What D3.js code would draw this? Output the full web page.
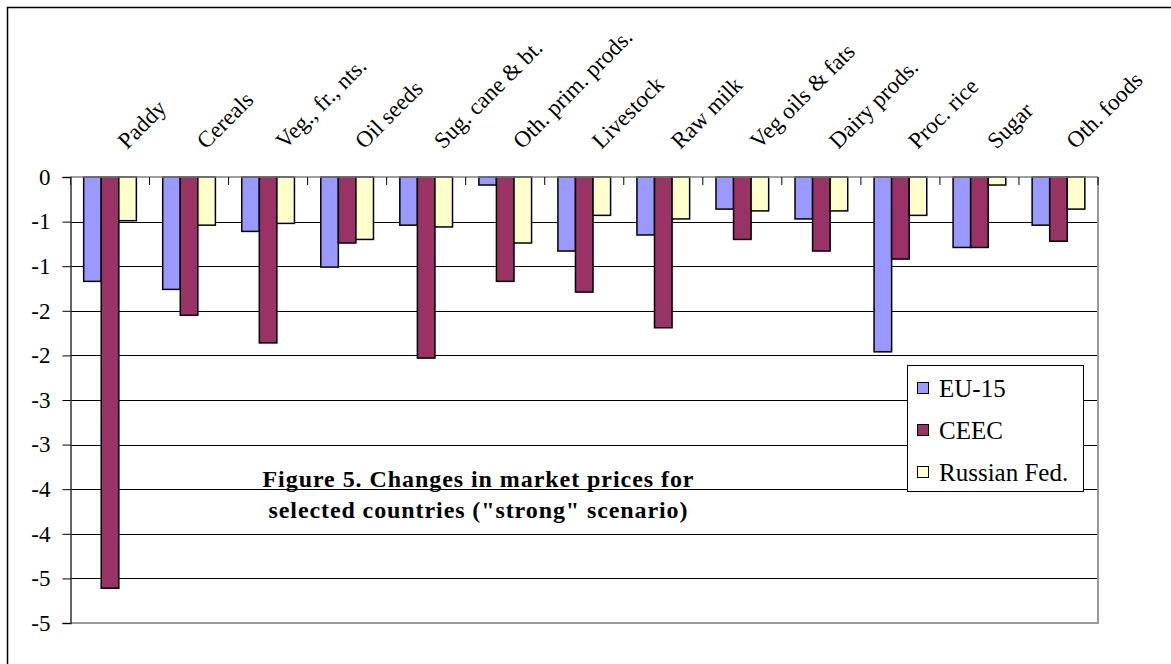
<!DOCTYPE html>
<html>
<head>
<meta charset="utf-8">
<script src="https://cdn.jsdelivr.net/npm/d3@7"></script>
<style>
  html, body { margin: 0; padding: 0; background: #fff; }
  svg { display: block; }
  text { font-family: "Liberation Serif", "Times New Roman", serif; fill: #000; }
</style>
</head>
<body>
<svg id="chart" width="1171" height="664"></svg>
<script>
// Product groups along the category axis
const categories = [
  "Paddy", "Cereals", "Veg., fr., nts.", "Oil seeds", "Sug. cane & bt.",
  "Oth. prim. prods.", "Livestock", "Raw milk", "Veg oils & fats",
  "Dairy prods.", "Proc. rice", "Sugar", "Oth. foods"
];

// Regions compared
const seriesNames = ["EU-15", "CEEC", "Russian Fed."];
const seriesColors = ["#9999FF", "#993366", "#FFFFCC"];

// Change in market prices (%) per region
const eu15 =     [-1.17, -1.26, -0.61, -1.01, -0.54, -0.09, -0.83, -0.65, -0.36, -0.47, -1.96, -0.79, -0.54];
const ceec =     [-4.61, -1.55, -1.86, -0.74, -2.03, -1.17, -1.29, -1.69, -0.70, -0.83, -0.92, -0.79, -0.72];
const russia =   [-0.49, -0.54, -0.52, -0.70, -0.56, -0.74, -0.43, -0.47, -0.38, -0.38, -0.43, -0.09, -0.36];

// Value axis ticks and their labels (whole-number format)
const yTicks = [0, -0.5, -1, -1.5, -2, -2.5, -3, -3.5, -4, -4.5, -5];
const yTickLabels = ["0", "-1", "-1", "-2", "-2", "-3", "-3", "-4", "-4", "-5", "-5"];

const titleLines = ["Figure 5. Changes in market prices for", "selected countries (\"strong\" scenario)"];

const seriesValues = [eu15, ceec, russia];

const svg = d3.select("#chart");

// Outer chart frame (only the top and left edges fall inside the page)
svg.append("rect")
  .attr("x", 7.5).attr("y", 7.5)
  .attr("width", 1200).attr("height", 700)
  .attr("fill", "#fff").attr("stroke", "#000").attr("stroke-width", 1.5);

const plot = { left: 70.5, right: 1098, top: 177, bottom: 623 };

const y = d3.scaleLinear().domain([0, -5]).range([plot.top, plot.bottom]);
const x = d3.scaleBand().domain(categories).range([plot.left, plot.right]).paddingInner(0).paddingOuter(0);
const xs = d3.scaleBand().domain(seriesNames).range([0, x.bandwidth()]).paddingInner(0).paddingOuter(0.75);

// Horizontal gridlines
svg.append("g")
  .selectAll("line")
  .data(yTicks.filter(v => v !== 0 && v !== -5))
  .join("line")
  .attr("x1", plot.left).attr("x2", plot.right)
  .attr("y1", d => Math.round(y(d)) + 0.5).attr("y2", d => Math.round(y(d)) + 0.5)
  .attr("stroke", "#000").attr("stroke-width", 1);

// Plot area bottom and right edges
svg.append("path")
  .attr("d", `M${plot.left},${plot.bottom}H${plot.right}V${plot.top}`)
  .attr("fill", "none").attr("stroke", "#999").attr("stroke-width", 2);

// Bars
const rows = categories.map((c, i) => ({ c, vals: seriesValues.map((s, k) => ({ name: seriesNames[k], k, v: s[i] })) }));
const groups = svg.append("g").selectAll("g")
  .data(rows)
  .join("g")
  .attr("transform", d => `translate(${x(d.c)},0)`);

groups.selectAll("rect")
  .data(d => d.vals)
  .join("rect")
  .attr("x", d => xs(d.name))
  .attr("width", xs.bandwidth())
  .attr("y", y(0))
  .attr("height", d => y(d.v) - y(0))
  .attr("fill", d => seriesColors[d.k])
  .attr("stroke", "#000").attr("stroke-width", 1.5);

// Category axis along the zero line, with boundary ticks pointing down
svg.append("line")
  .attr("x1", plot.left).attr("x2", plot.right)
  .attr("y1", y(0)).attr("y2", y(0))
  .attr("stroke", "#808080").attr("stroke-width", 1.5);

svg.append("g")
  .selectAll("line")
  .data(categories.concat([null]))
  .join("line")
  .attr("x1", d => d === null ? plot.right : x(d))
  .attr("x2", d => d === null ? plot.right : x(d))
  .attr("y1", y(0)).attr("y2", y(0) + 8)
  .attr("stroke", "#000").attr("stroke-width", 1);

svg.append("g")
  .selectAll("text")
  .data(categories)
  .join("text")
  .attr("transform", d => `translate(${x(d) + x.bandwidth() / 2 + 17},150) rotate(-45)`)
  .attr("font-size", 23)
  .text(d => d);

// Value axis
const yAxis = d3.axisLeft(y)
  .tickValues(yTicks)
  .tickSize(8)
  .tickPadding(12)
  .tickFormat((d, i) => yTickLabels[i]);

const yg = svg.append("g")
  .attr("transform", `translate(${plot.left},0)`)
  .call(yAxis);
yg.select(".domain").attr("stroke", "#333").attr("stroke-width", 1.5);
yg.selectAll(".tick line").attr("stroke", "#000");
yg.selectAll(".tick text")
  .attr("font-family", "Liberation Serif, Times New Roman, serif")
  .attr("font-size", 23)
  .attr("fill", "#000");

// Legend
const legend = svg.append("g").attr("transform", "translate(907,365)");
legend.append("rect")
  .attr("x", 0.5).attr("y", 0.5)
  .attr("width", 176).attr("height", 126)
  .attr("fill", "#fff").attr("stroke", "#000").attr("stroke-width", 1);
const li = legend.selectAll("g.item")
  .data(seriesNames)
  .join("g")
  .attr("class", "item")
  .attr("transform", (d, i) => `translate(10,${23 + i * 42})`);
li.append("rect")
  .attr("x", 0.5).attr("y", -5.5)
  .attr("width", 11).attr("height", 11)
  .attr("fill", (d, i) => seriesColors[i])
  .attr("stroke", "#000").attr("stroke-width", 1);
li.append("text")
  .attr("x", 22).attr("y", 0)
  .attr("dominant-baseline", "central")
  .attr("font-size", 25)
  .text(d => d);

// Chart title inside the plot area
svg.append("g")
  .selectAll("text")
  .data(titleLines)
  .join("text")
  .attr("x", 478)
  .attr("y", (d, i) => 487 + i * 31)
  .attr("text-anchor", "middle")
  .attr("font-weight", "bold")
  .attr("font-size", 24)
  .attr("textLength", (d, i) => i === 0 ? 431 : 419)
  .attr("lengthAdjust", "spacing")
  .text(d => d);
</script>
</body>
</html>
